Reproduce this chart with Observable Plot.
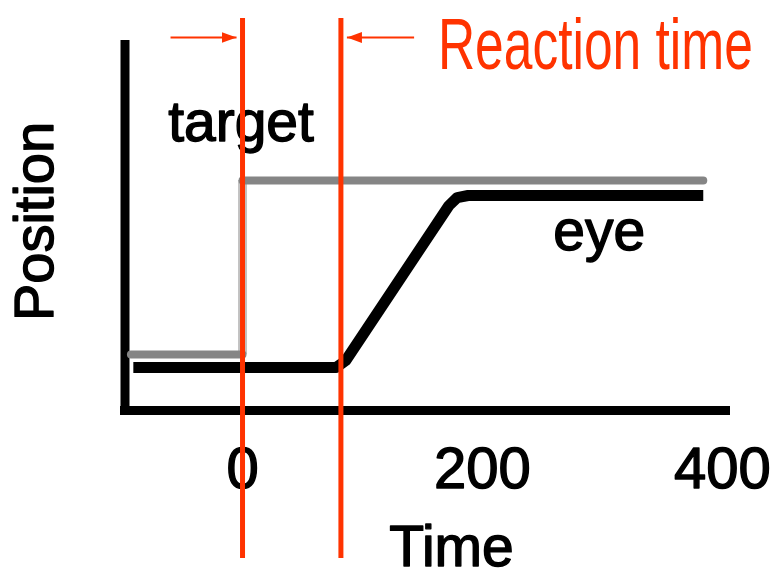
<!DOCTYPE html>
<html>
<head>
<meta charset="utf-8">
<script src="https://cdn.jsdelivr.net/npm/d3@7"></script>
<script src="https://cdn.jsdelivr.net/npm/@observablehq/plot@0.6"></script>
<style>
  html, body { margin: 0; padding: 0; background: #fff; }
</style>
</head>
<body>
<div id="chart"></div>
<script>
// ---- data ----
const stimulusTime = 0;          // target jump (ms)
const reactionTime = 82;         // eye starts moving (ms)
const xTicks = [0, 200, 400];

const targetTime = [-93, 0, 0, 384];
const targetPos  = [0.243, 0.243, 1, 1];
const targetSeg  = ["low", "low", "high", "high"];

const eyeTime = [-91, 78, 86, 172, 179, 188, 384];
const eyePos  = [0.187, 0.187, 0.217, 0.891, 0.926, 0.935, 0.935];

const labels = ["target", "eye"];
const labelTime = [-62, 259];
const labelPos  = [1.174, 0.7];

const arrowFrom = [stimulusTime - 60, reactionTime + 61];
const arrowTo   = [stimulusTime - 5, reactionTime + 5];
const arrowPos  = 1.622;

// ---- tables ----
const target = targetTime.map((t, i) => ({t, p: targetPos[i], seg: targetSeg[i]}));
const eye = eyeTime.map((t, i) => ({t, p: eyePos[i]}));
const lab = labels.map((s, i) => ({s, t: labelTime[i], p: labelPos[i]}));
const arrows = arrowFrom.map((a, i) => ({x1: a, x2: arrowTo[i], y: arrowPos}));

const RED = "#ff3300";
const INK = {fill: "black", stroke: "black", strokeWidth: 1.4};

function filledArrow(color, context) {
  const ns = "http://www.w3.org/2000/svg";
  const doc = context.document;
  const m = doc.createElementNS(ns, "marker");
  m.setAttribute("viewBox", "-15 -6 15 12");
  m.setAttribute("markerWidth", "15");
  m.setAttribute("markerHeight", "12");
  m.setAttribute("markerUnits", "userSpaceOnUse");
  m.setAttribute("orient", "auto");
  m.setAttribute("refX", "0");
  m.setAttribute("refY", "0");
  const p = doc.createElementNS(ns, "path");
  p.setAttribute("d", "M-15,-5.5L0,0L-15,5.5Z");
  p.setAttribute("fill", color);
  p.setAttribute("stroke", "none");
  m.appendChild(p);
  return m;
}

const chart = Plot.plot({
  width: 783,
  height: 578,
  marginLeft: 120,
  marginRight: 53,
  marginTop: 40,
  marginBottom: 168,
  style: {fontFamily: "'Liberation Sans', Arial, Helvetica, sans-serif", background: "#fff", color: "#000"},
  x: {domain: [-101.7, 406.7], axis: null},
  y: {domain: [0, 1.609], axis: null},
  marks: [
    // axes lines
    Plot.ruleY([0], {stroke: "black", strokeWidth: 9}),
    Plot.ruleX([-101.7], {stroke: "black", strokeWidth: 9, dx: 4.5, insetBottom: -4.5}),
    // tick labels
    Plot.text(xTicks, {x: d => d, frameAnchor: "bottom", dy: 36, textAnchor: "middle", lineAnchor: "top", fontSize: 58, ...INK}),
    // target
    Plot.ruleX([stimulusTime], {y1: targetPos[1], y2: targetPos[2], stroke: "#c2c2c2", strokeWidth: 9}),
    Plot.line(target, {x: "t", y: "p", z: "seg", stroke: "#858585", strokeWidth: 8}),
    // eye
    Plot.line(eye, {x: "t", y: "p", stroke: "black", strokeWidth: 11, strokeLinejoin: "round", strokeLinecap: "butt"}),
    // labels
    Plot.text(lab, {x: "t", y: "p", text: "s", textAnchor: "start", lineAnchor: "bottom", fontSize: 57, ...INK}),
    Plot.text(["Time"], {frameAnchor: "bottom", dx: 26, dy: 155, textAnchor: "middle", lineAnchor: "bottom", fontSize: 57, ...INK}),
    Plot.text(["Position"], {frameAnchor: "left", dx: -85, dy: -4, rotate: -90, textAnchor: "middle", lineAnchor: "middle", fontSize: 56, ...INK}),
    // red annotation
    Plot.ruleX([stimulusTime, reactionTime], {stroke: RED, strokeWidth: 5, insetTop: -22, insetBottom: -148}),
    Plot.link(arrows, {x1: "x1", x2: "x2", y1: "y", y2: "y", stroke: RED, strokeWidth: 2, markerEnd: filledArrow}),
    Plot.text(["Reaction time"], {x: () => reactionTime, frameAnchor: "top", dx: 97, dy: 28, textAnchor: "start", lineAnchor: "bottom", fontSize: 73, fill: RED})
  ]
});

document.getElementById("chart").appendChild(chart);

// condense the red title like the narrow font in the original
d3.select(chart).selectAll("text").filter(function () { return this.textContent === "Reaction time"; })
  .each(function () {
    const w = this.getComputedTextLength();
    const s = w > 0 ? 315 / w : 1;
    const t = this.getAttribute("transform") || "";
    this.setAttribute("transform", `${t} scale(${s},1)`);
  });
</script>
</body>
</html>
